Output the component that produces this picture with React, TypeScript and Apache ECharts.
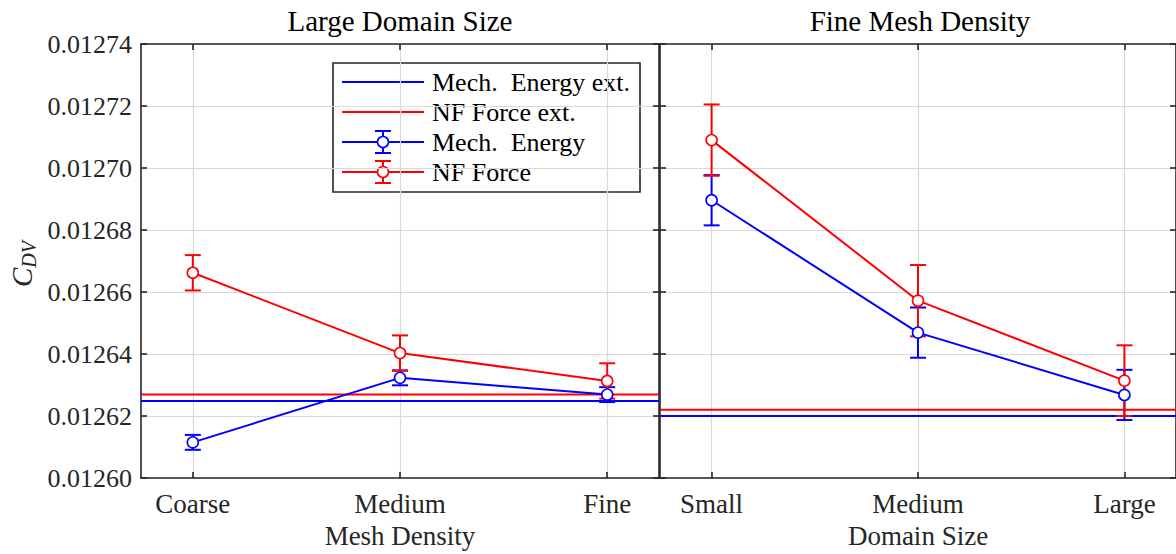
import React, { useEffect, useRef } from "react";
import * as echarts from "echarts";

// Category labels for the two panels
const meshCategories = ["Coarse", "Medium", "Fine"];
const domainCategories = ["Small", "Medium", "Large"];
const categoryPositions = [1, 2, 3];

// Y axis range
const yMin = 0.0126;
const yMax = 0.01274;
const yStep = 0.00002;

// Large Domain Size panel (varying mesh density)
const mechMesh = [0.0126115, 0.0126323, 0.0126269];
const mechMeshErr = [0.0000024, 0.0000024, 0.0000024];
const nfMesh = [0.0126662, 0.0126403, 0.0126313];
const nfMeshErr = [0.0000057, 0.0000057, 0.0000057];
const mechMeshExt = 0.0126248;
const nfMeshExt = 0.0126269;

// Fine Mesh Density panel (varying domain size)
const mechDomain = [0.0126896, 0.0126469, 0.0126268];
const mechDomainErr = [0.0000081, 0.0000081, 0.0000081];
const nfDomain = [0.012709, 0.0126572, 0.0126314];
const nfDomainErr = [0.0000115, 0.0000115, 0.0000114];
const mechDomainExt = 0.01262;
const nfDomainExt = 0.012622;

const FONT = "Liberation Serif";
const INK = "#262626";
const BLUE = "#0000ff";
const RED = "#ff0000";
const GRID = "#d9d9d9";

const xMin = 0.75;
const xMax = 3.25;

function errorBarSeries(gridIdx: number, values: number[], errs: number[], color: string) {
  return {
    type: "custom",
    xAxisIndex: gridIdx * 2,
    yAxisIndex: gridIdx * 2,
    z: 3,
    encode: { x: 0, y: [1, 2] },
    data: values.map((v, i) => [categoryPositions[i], v - errs[i], v + errs[i]]),
    renderItem: (params: any, api: any) => {
      const x = api.value(0);
      const top = api.coord([x, api.value(2)]);
      const bot = api.coord([x, api.value(1)]);
      const w = 8;
      const st = { stroke: color, lineWidth: 2 };
      return {
        type: "group",
        children: [
          { type: "line", shape: { x1: top[0], y1: top[1], x2: bot[0], y2: bot[1] }, style: st },
          { type: "line", shape: { x1: top[0] - w, y1: top[1], x2: top[0] + w, y2: top[1] }, style: st },
          { type: "line", shape: { x1: bot[0] - w, y1: bot[1], x2: bot[0] + w, y2: bot[1] }, style: st },
        ],
      };
    },
  };
}

function meanSeries(gridIdx: number, values: number[], color: string) {
  return {
    type: "line",
    xAxisIndex: gridIdx * 2,
    yAxisIndex: gridIdx * 2,
    z: 4,
    data: values.map((v, i) => [categoryPositions[i], v]),
    symbol: "circle",
    symbolSize: 11,
    itemStyle: { color: "#ffffff", borderColor: color, borderWidth: 1.6 },
    lineStyle: { color, width: 2 },
  };
}

function extSeries(gridIdx: number, value: number, color: string) {
  return {
    type: "line",
    xAxisIndex: gridIdx * 2,
    yAxisIndex: gridIdx * 2,
    z: 2,
    data: [
      [xMin, value],
      [xMax, value],
    ],
    symbol: "none",
    lineStyle: { color, width: 2 },
  };
}

function xAxes(gridIdx: number, cats: string[], name: string) {
  const line = { show: true, onZero: false, lineStyle: { color: INK, width: 1.6 } };
  const tick = { show: true, inside: true, length: 6, customValues: categoryPositions, lineStyle: { color: INK, width: 1.6 } };
  return [
    {
      type: "value",
      gridIndex: gridIdx,
      min: xMin,
      max: xMax,
      position: "bottom",
      axisLine: line,
      axisTick: tick,
      axisLabel: {
        customValues: categoryPositions,
        formatter: (v: number) => cats[Math.round(v) - 1] ?? "",
        fontFamily: FONT,
        fontSize: 27,
        color: INK,
        margin: 12,
      },
      splitLine: { show: true, lineStyle: { color: GRID, width: 1.2 } },
      name,
      nameLocation: "middle",
      nameGap: 44,
      nameTextStyle: { fontFamily: FONT, fontSize: 27, color: INK },
    },
    {
      type: "value",
      gridIndex: gridIdx,
      min: xMin,
      max: xMax,
      position: "top",
      axisLine: line,
      axisTick: tick,
      axisLabel: { show: false },
      splitLine: { show: false },
    },
  ];
}

function yAxes(gridIdx: number, labels: boolean) {
  const line = { show: true, onZero: false, lineStyle: { color: INK, width: 1.6 } };
  const tick = { show: true, inside: true, length: 6, lineStyle: { color: INK, width: 1.6 } };
  return [
    {
      type: "value",
      gridIndex: gridIdx,
      min: yMin,
      max: yMax,
      interval: yStep,
      position: "left",
      axisLine: line,
      axisTick: tick,
      axisLabel: {
        show: labels,
        formatter: (v: number) => v.toFixed(5),
        fontFamily: FONT,
        fontSize: 26,
        color: INK,
        margin: 9,
      },
      splitLine: { show: true, lineStyle: { color: GRID, width: 1.2 } },
    },
    {
      type: "value",
      gridIndex: gridIdx,
      min: yMin,
      max: yMax,
      interval: yStep,
      position: "right",
      axisLine: line,
      axisTick: tick,
      axisLabel: { show: false },
      splitLine: { show: false },
    },
  ];
}

// Legend drawn as graphic elements so the error-bar glyphs can be shown
function legendGraphics() {
  const left = 333;
  const top = 63;
  const rows = [
    { label: "Mech.  Energy ext.", color: BLUE, bars: false },
    { label: "NF Force ext.", color: RED, bars: false },
    { label: "Mech.  Energy", color: BLUE, bars: true },
    { label: "NF Force", color: RED, bars: true },
  ];
  const children: any[] = [
    {
      type: "rect",
      shape: { x: left, y: top, width: 307, height: 129 },
      style: { fill: "#ffffff", stroke: INK, lineWidth: 1.6 },
    },
  ];
  rows.forEach((r, i) => {
    const y = 82 + i * 30;
    const st = { stroke: r.color, lineWidth: 2 };
    children.push({ type: "line", shape: { x1: 342, y1: y, x2: 424, y2: y }, style: st });
    if (r.bars) {
      children.push({ type: "line", shape: { x1: 383, y1: y - 11, x2: 383, y2: y + 11 }, style: st });
      children.push({ type: "line", shape: { x1: 375, y1: y - 11, x2: 391, y2: y - 11 }, style: st });
      children.push({ type: "line", shape: { x1: 375, y1: y + 11, x2: 391, y2: y + 11 }, style: st });
      children.push({
        type: "circle",
        shape: { cx: 383, cy: y, r: 5.5 },
        style: { fill: "#ffffff", stroke: r.color, lineWidth: 1.6 },
      });
    }
    children.push({
      type: "text",
      style: {
        text: r.label,
        x: 432,
        y: y,
        verticalAlign: "middle",
        align: "left",
        fontFamily: FONT,
        fontSize: 26,
        fill: "#000000",
      },
    });
  });
  return { type: "group", z: 100, children };
}

export default function App() {
  const ref = useRef<HTMLDivElement>(null);

  useEffect(() => {
    if (!ref.current) return;
    const chart = echarts.init(ref.current, undefined, { renderer: "svg" });
    chart.setOption({
      animation: false,
      backgroundColor: "#ffffff",
      grid: [
        { left: 141, top: 44, width: 518, height: 437 },
        { left: 660, top: 44, width: 520, height: 437 },
      ],
      xAxis: [...xAxes(0, meshCategories, "Mesh Density"), ...xAxes(1, domainCategories, "Domain Size")],
      yAxis: [...yAxes(0, true), ...yAxes(1, false)],
      series: [
        extSeries(0, mechMeshExt, BLUE),
        extSeries(0, nfMeshExt, RED),
        errorBarSeries(0, mechMesh, mechMeshErr, BLUE),
        errorBarSeries(0, nfMesh, nfMeshErr, RED),
        meanSeries(0, mechMesh, BLUE),
        meanSeries(0, nfMesh, RED),
        extSeries(1, mechDomainExt, BLUE),
        extSeries(1, nfDomainExt, RED),
        errorBarSeries(1, mechDomain, mechDomainErr, BLUE),
        errorBarSeries(1, nfDomain, nfDomainErr, RED),
        meanSeries(1, mechDomain, BLUE),
        meanSeries(1, nfDomain, RED),
      ],
      graphic: [
        {
          type: "text",
          style: {
            text: "Large Domain Size",
            x: 400,
            y: 21,
            align: "center",
            verticalAlign: "middle",
            fontFamily: FONT,
            fontSize: 29,
            fill: "#000000",
          },
        },
        {
          type: "text",
          style: {
            text: "Fine Mesh Density",
            x: 920,
            y: 21,
            align: "center",
            verticalAlign: "middle",
            fontFamily: FONT,
            fontSize: 29,
            fill: "#000000",
          },
        },
        {
          type: "text",
          x: 22,
          y: 264,
          rotation: Math.PI / 2,
          style: {
            text: "{c|C}{s|DV}",
            align: "center",
            verticalAlign: "middle",
            rich: {
              c: { fontFamily: FONT, fontStyle: "italic", fontSize: 29, lineHeight: 34, fill: INK },
              s: { fontFamily: FONT, fontStyle: "italic", fontSize: 20, lineHeight: 20, verticalAlign: "bottom", fill: INK },
            },
          },
        },
        legendGraphics(),
      ],
    });
    return () => chart.dispose();
  }, []);

  return (
    <div
      ref={ref}
      style={{ position: "fixed", left: 0, top: 0, width: 1176, height: 554, background: "#ffffff" }}
    />
  );
}
